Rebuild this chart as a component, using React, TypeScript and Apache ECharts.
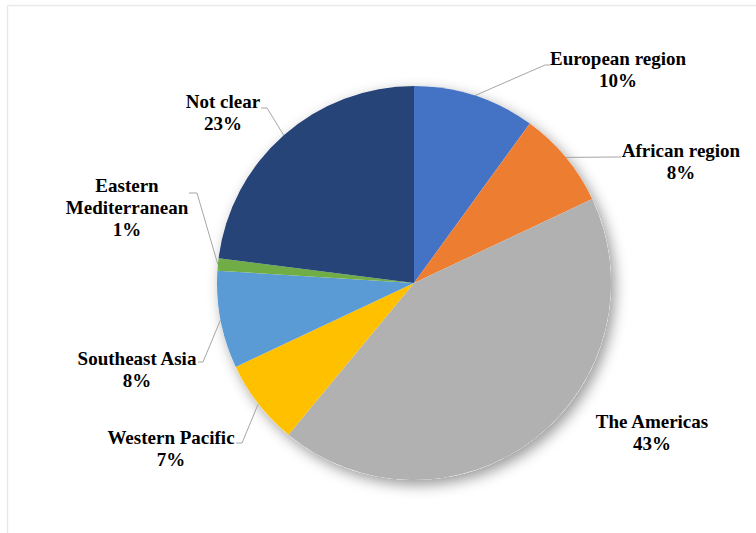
import React, { useEffect, useRef } from "react";
import * as echarts from "echarts";

const categories = [
  "European region",
  "African region",
  "The Americas",
  "Western Pacific",
  "Southeast Asia",
  "Eastern Mediterranean",
  "Not clear",
];
const shares = [10, 8, 43, 7, 8, 1, 23];
const colors = ["#4472C4", "#ED7D31", "#B1B1B1", "#FFC000", "#5B9BD5", "#70AD47", "#264478"];

// label block centres (page px) and leader-line elbows
const labelCenters = [
  [618, 69],
  [681, 161],
  [652, 432],
  [171, 448],
  [137, 369],
  [127, 207],
  [223, 112],
];
const leaderElbows: (number[][] | null)[] = [
  [[545, 65], [550, 65]],
  [[616, 157], [621, 157]],
  null,
  [[242, 443], [236, 443]],
  [[203, 362], [198, 362]],
  [[197, 193], [189, 193]],
  [[267, 108], [261, 108]],
];

export default function App() {
  const ref = useRef<HTMLDivElement>(null);
  useEffect(() => {
    if (!ref.current) return;
    const chart = echarts.init(ref.current, null, { renderer: "svg" });
    const total = shares.reduce((a, b) => a + b, 0);
    chart.setOption({
      animation: false,
      backgroundColor: "#ffffff",
      graphic: [
        {
          type: "rect",
          shape: { x: 7.5, y: 5.5, width: 800, height: 600 },
          style: { fill: "none", stroke: "#e9e9e9", lineWidth: 1.5 },
          silent: true,
        },
      ],
      series: [
        {
          type: "pie",
          center: [414, 283],
          radius: 197,
          silent: true,
          z: 1,
          label: { show: false },
          labelLine: { show: false },
          itemStyle: {
            color: "#ffffff",
            shadowBlur: 14,
            shadowOffsetX: 4,
            shadowOffsetY: 5,
            shadowColor: "rgba(0,0,0,0.4)",
          },
          data: [{ value: total, name: "_bg" }],
        },
        {
          type: "pie",
          center: [414, 283],
          radius: 197,
          startAngle: 90,
          clockwise: true,
          z: 2,
          avoidLabelOverlap: false,
          itemStyle: { borderWidth: 0 },
          label: {
            show: true,
            position: "outside",
            color: "#000000",
            fontFamily: "Liberation Serif",
            fontWeight: "bold",
            fontSize: 19,
            lineHeight: 22,
            align: "center",
            formatter: (p: any) => {
              const n = p.name.length > 16 ? p.name.replace(" ", "\n") : p.name;
              return n + "\n" + p.value + "%";
            },
          },
          labelLine: {
            show: true,
            lineStyle: { color: "#A6A6A6", width: 1 },
          },
          labelLayout: (params: any) => {
            const i = params.dataIndex;
            const c = labelCenters[i];
            const out: any = { x: c[0], y: c[1], align: "center", verticalAlign: "middle" };
            const el = leaderElbows[i];
            if (el && params.labelLinePoints) {
              out.labelLinePoints = [params.labelLinePoints[0], el[0], el[1]];
            }
            return out;
          },
          data: categories.map((name, i) => ({
            name,
            value: shares[i],
            itemStyle: { color: colors[i] },
            labelLine: { show: leaderElbows[i] !== null },
          })),
        },
      ],
    });
    return () => chart.dispose();
  }, []);
  return (
    <div
      ref={ref}
      style={{ position: "fixed", left: 0, top: 0, width: 756, height: 533 }}
    />
  );
}
